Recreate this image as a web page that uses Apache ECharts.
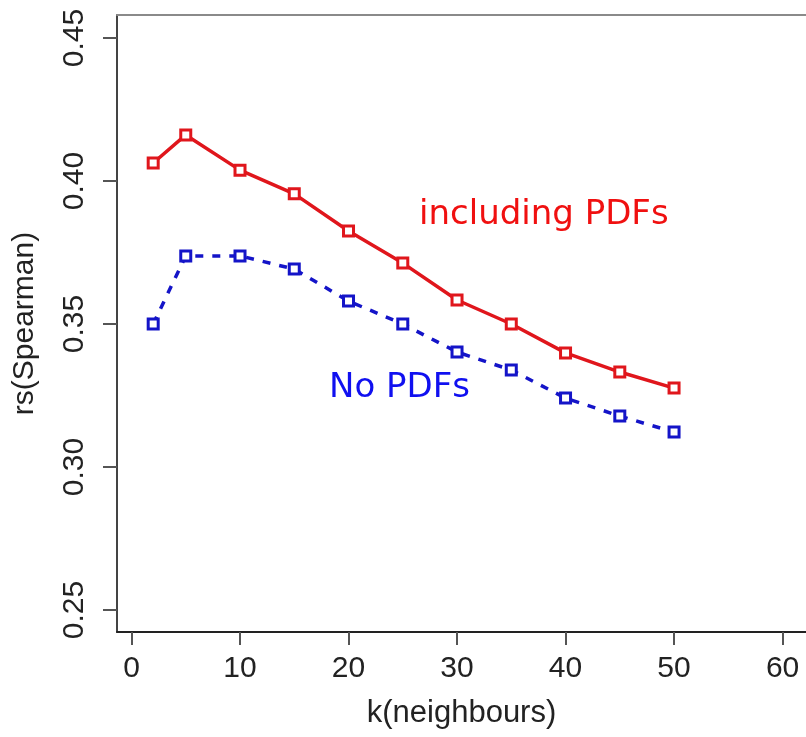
<!DOCTYPE html>
<html lang="en">
<head>
    <meta charset="utf-8">
    <script src="https://cdn.jsdelivr.net/npm/echarts@6/dist/echarts.min.js"></script>
    <style>
        * { margin: 0; padding: 0; }
        body { background: #fff; }
    </style>
</head>
<body>
<div id="main" style="width: 806px; height: 737px;"></div>
<script>
// k values and Spearman rs
var kValues = [2, 5, 10, 15, 20, 25, 30, 35, 40, 45, 50];
var withPdfs = [0.4063, 0.4161, 0.4038, 0.3955, 0.3825, 0.3713, 0.3584, 0.3500, 0.3399, 0.3332, 0.3276];
var noPdfs = [0.3500, 0.3738, 0.3738, 0.3692, 0.3580, 0.3500, 0.3402, 0.3339, 0.3241, 0.3178, 0.3122];
var xTicks = [0, 10, 20, 30, 40, 50, 60];
var yTicks = [0.25, 0.30, 0.35, 0.40, 0.45];
// annotation anchors, in data coordinates
var notes = [
    { text: 'including PDFs', k: 38.0, rs: 0.3881, color: '#f01010' },
    { text: 'No PDFs', k: 24.7, rs: 0.3276, color: '#1010f0' }
];

function pairs(ys) {
    return kValues.map(function (k, i) { return [k, ys[i]]; });
}

var myChart = echarts.init(document.getElementById('main'));
var axisFont = 'Liberation Sans, Arial, sans-serif';

var option = {
    backgroundColor: '#fff',
    animation: false,
    grid: {
        left: 117,
        top: 15,
        right: 0,
        bottom: 105
    },
    xAxis: [{
        type: 'value',
        min: -1.336,
        max: 62.16,
        name: 'k(neighbours)',
        nameLocation: 'middle',
        nameGap: 66,
        nameTextStyle: { fontFamily: axisFont, fontSize: 31, color: '#222' },
        axisLine: { onZero: false, lineStyle: { color: '#222', width: 2 } },
        axisTick: { length: 13, customValues: xTicks, lineStyle: { color: '#555', width: 2 } },
        axisLabel: {
            customValues: xTicks,
            margin: 22,
            fontFamily: axisFont, fontSize: 30, color: '#222'
        },
        splitLine: { show: false }
    }, {
        // top edge of the box only
        type: 'value',
        position: 'top',
        min: -1.336,
        max: 62.16,
        axisLine: { show: true, onZero: false, lineStyle: { color: '#8a8a8a', width: 2 } },
        axisTick: { show: false },
        axisLabel: { show: false },
        splitLine: { show: false }
    }],
    yAxis: {
        type: 'value',
        min: 0.24231,
        max: 0.45804,
        name: 'rs(Spearman)',
        nameLocation: 'middle',
        nameGap: 77,
        nameTextStyle: { fontFamily: axisFont, fontSize: 30, color: '#222' },
        axisLine: { show: true, onZero: false, lineStyle: { color: '#444', width: 2 } },
        axisTick: { show: true, length: 14, customValues: yTicks, lineStyle: { color: '#555', width: 2 } },
        axisLabel: {
            customValues: yTicks,
            rotate: 90,
            margin: 27,
            fontFamily: axisFont, fontSize: 30, color: '#222',
            formatter: function (v) { return v.toFixed(2); }
        },
        splitLine: { show: false }
    },
    series: [{
        name: 'including PDFs',
        type: 'line',
        data: pairs(withPdfs),
        symbol: 'rect',
        symbolSize: 10,
        itemStyle: { color: '#fff', borderColor: '#e0161c', borderWidth: 3 },
        lineStyle: { color: '#e0161c', width: 3.5 }
    }, {
        name: 'No PDFs',
        type: 'line',
        data: pairs(noPdfs),
        symbol: 'rect',
        symbolSize: 10,
        itemStyle: { color: '#fff', borderColor: '#1414c8', borderWidth: 3 },
        lineStyle: { color: '#1414c8', width: 3.5, type: [8, 9] }
    }]
};

myChart.setOption(option);

// place the hand-written style labels via the chart's own coordinate system
myChart.setOption({
    graphic: notes.map(function (n) {
        var p = myChart.convertToPixel({ gridIndex: 0 }, [n.k, n.rs]);
        return {
            type: 'text',
            x: p[0],
            y: p[1],
            style: {
                text: n.text,
                fill: n.color,
                font: '34px "DejaVu Sans", sans-serif',
                align: 'center',
                verticalAlign: 'middle'
            }
        };
    })
});
</script>
</body>
</html>
